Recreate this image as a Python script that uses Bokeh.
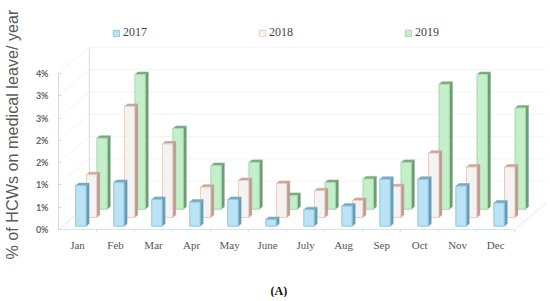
from bokeh.plotting import figure
from bokeh.embed import file_html
from bokeh.resources import INLINE
from bokeh.models import Range1d, FixedTicker, Legend, LegendItem, LinearAxis, Title

months = ["Jan","Feb","Mar","Apr","May","June","July","Aug","Sep","Oct","Nov","Dec"]
y2017 = [0.91,0.98,0.60,0.54,0.60,0.15,0.37,0.45,1.05,1.05,0.90,0.52]
y2018 = [0.96,2.49,1.65,0.68,0.83,0.76,0.60,0.38,0.69,1.44,1.13,1.13]
y2019 = [1.59,3.02,1.81,0.98,1.05,0.31,0.60,0.68,1.05,2.80,3.02,2.27]
y_ticks = [0,0.5,1,1.5,2,2.5,3,3.5]
y_labels = ["0%","1%","1%","2%","2%","3%","3%","4%"]

PX = 38.17; PY = 44.6
depth_x, depth_y = 31/PX, 26/PY
side_x, side_y = 3/PX, 2.5/PY
bar_w = 10.4/PX

p = figure(width=548, height=297, output_backend="svg", toolbar_location=None,
           x_range=Range1d(0, 492/PX), y_range=Range1d(0, 221/PY),
           min_border_left=56, min_border_right=0, min_border_top=8, min_border_bottom=68,
           outline_line_color=None, background_fill_color="white")
p.grid.visible = False

# walls
wall = "#f3f3f3"
p.segment([depth_x]*len(y_ticks[1:]), [t+depth_y for t in y_ticks[1:]],
          [12+depth_x]*len(y_ticks[1:]), [t+depth_y for t in y_ticks[1:]], line_color=wall, line_width=1)
p.segment([0]*8, y_ticks, [depth_x]*8, [t+depth_y for t in y_ticks], line_color=wall, line_width=1)
p.segment([depth_x], [depth_y], [depth_x], [3.5+depth_y], line_color="#dcdcdc", line_width=1)
p.segment([0, 12], [0, 0], [depth_x, 12+depth_x], [depth_y, depth_y], line_color="#e6e6e6", line_width=1)

series = [
    ("2019", y2019, 0.455, 1.01, "#c3f0c8", "#a5d8ab", "#6f9c76", "#7fa886"),
    ("2018", y2018, 0.27, 0.733, "#f3f3f3", "#f0cbb8", "#b89c92", "#c4a99f"),
    ("2017", y2017, 0.075, 0.453, "#bbe3f6", "#8fc6e0", "#6a9bb4", "#7ba9bf"),
]
rend = {}
for name, vals, base, off, fill, edge, side, cap in series:
    n = len(vals)
    lefts = [i+off for i in range(n)]
    rights = [l+bar_w for l in lefts]
    tops = [base+v for v in vals]
    p.patches([[r, r+side_x, r+side_x, r] for r in rights],
              [[base, base+side_y, t+side_y, t] for t in tops],
              fill_color=side, line_color=side, line_width=0.5)
    p.patches([[l, l+side_x, r+side_x, r] for l, r in zip(lefts, rights)],
              [[t, t+side_y, t+side_y, t] for t in tops],
              fill_color=cap, line_color=cap, line_width=0.5)
    rend[name] = p.quad(left=lefts, right=rights, bottom=[base]*n, top=tops,
                        fill_color=fill, line_color=edge, line_width=1)

# y axis
ya = p.yaxis[0]
ya.bounds = (0, 3.5)
ya.ticker = FixedTicker(ticks=y_ticks)
ya.major_label_overrides = {t: l for t, l in zip(y_ticks, y_labels)}
ya.major_tick_in = 3; ya.major_tick_out = 0
ya.minor_tick_in = 0; ya.minor_tick_out = 0
ya.major_tick_line_color = "#d9d9d9"; ya.axis_line_color = "#dddddd"
ya.major_label_standoff = 10
ya.major_label_text_font = "Lato"; ya.major_label_text_font_style = "bold"
ya.major_label_text_font_size = "9px"; ya.major_label_text_color = "#666666"

# empty axis: only spaces the y title away from the tick labels
p.add_layout(LinearAxis(ticker=FixedTicker(ticks=[]), axis_line_color=None,
                        major_tick_line_color=None, minor_tick_line_color=None,
                        major_tick_in=0, major_tick_out=0, axis_label=" ",
                        axis_label_standoff=8, axis_label_text_font_size="1px"), "left")
p.add_layout(Title(text="% of HCWs on medical leave/ year", align="right", offset=1, standoff=0,
                   text_font="Liberation Sans", text_font_style="normal",
                   text_font_size="16.2px", text_color="#5a5a5a"), "left")

# x axis
centers = [i+0.5 for i in range(12)]
xa = p.xaxis[0]
xa.bounds = (0, 12)
xa.ticker = FixedTicker(ticks=centers, minor_ticks=list(range(1, 13)))
xa.major_label_overrides = {c: m for c, m in zip(centers, months)}
xa.major_tick_in = 0; xa.major_tick_out = 0
xa.minor_tick_in = 0; xa.minor_tick_out = 3
xa.minor_tick_line_color = "#d5e5ee"; xa.axis_line_color = "#d5e5ee"
xa.major_label_standoff = 6
xa.major_label_text_font = "Liberation Serif"; xa.major_label_text_font_size = "11px"
xa.major_label_text_color = "#555555"

# empty axis: only spaces the panel caption away from the month labels
p.add_layout(LinearAxis(ticker=FixedTicker(ticks=[]), axis_line_color=None,
                        major_tick_line_color=None, minor_tick_line_color=None,
                        major_tick_in=0, major_tick_out=0, axis_label=" ",
                        axis_label_standoff=24, axis_label_text_font_size="1px"), "below")
p.add_layout(Title(text="(A)", align="left", offset=212, standoff=0,
                   text_font="Liberation Serif", text_font_style="bold",
                   text_font_size="12px", text_color="#111111"), "below")

legend = Legend(items=[LegendItem(label="2017", renderers=[rend["2017"]]),
                       LegendItem(label="2018", renderers=[rend["2018"]]),
                       LegendItem(label="2019", renderers=[rend["2019"]])],
                orientation="horizontal", location=(54, 189), spacing=111,
                glyph_width=8, glyph_height=8, label_standoff=3, padding=0, margin=0,
                background_fill_alpha=0, border_line_color=None,
                label_text_font="Liberation Serif", label_text_font_size="12px",
                label_text_color="#444444")
p.add_layout(legend, "center")

open("out.html", "w").write(file_html(p, INLINE))
